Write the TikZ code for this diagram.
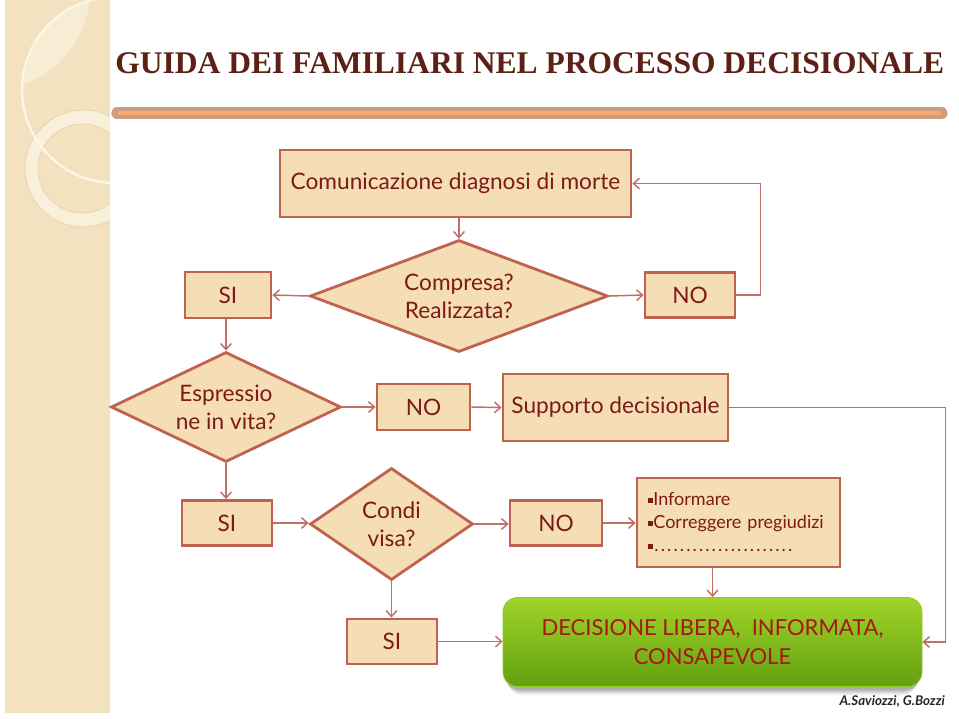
\documentclass[tikz,border=0pt]{standalone}
\usepackage{fontspec}
\setmainfont{Lato}
\newfontfamily\titlefont{Liberation Serif}
\usetikzlibrary{shapes.geometric,arrows.meta}
\definecolor{stripe}{RGB}{243,226,192}
\definecolor{stripelight}{RGB}{247,236,212}
\definecolor{ringfill}{RGB}{249,240,220}
\definecolor{ringline}{RGB}{232,212,168}
\definecolor{circline}{RGB}{252,246,230}
\definecolor{titlecol}{RGB}{92,32,22}
\definecolor{barout}{RGB}{196,140,104}
\definecolor{barin}{RGB}{246,170,112}
\definecolor{boxfill}{RGB}{245,222,182}
\definecolor{boxdraw}{RGB}{192,98,80}
\definecolor{txtred}{RGB}{125,26,24}
\definecolor{linecol}{RGB}{192,112,100}
\definecolor{gtop}{RGB}{160,212,40}
\definecolor{gmid}{RGB}{138,196,28}
\definecolor{gbot}{RGB}{98,160,16}
\definecolor{gtxt}{RGB}{168,22,22}
\newcommand\bul{\raisebox{0.16em}{\rule{0.3em}{0.3em}}}
\newcommand\dotrow{\hbox to 105pt{\xleaders\hbox to 4.75pt{\hss.\hss}\hfill}}
\begin{document}
\begin{tikzpicture}[x=0.75pt,y=-0.75pt,
  box/.style={draw=boxdraw, fill=boxfill, line width=2.1pt, inner sep=0pt, text=txtred, font=\fontsize{17}{21}\selectfont, align=center},
  dia/.style={diamond, draw=boxdraw, fill=boxfill, line width=2.1pt, inner sep=0pt},
  lbl/.style={text=txtred, font=\fontsize{17}{21}\selectfont, align=center, inner sep=0pt},
  arr/.style={draw=linecol, line width=1.1pt, -{Straight Barb[length=4.5pt,width=8pt]}},
  conn/.style={draw=linecol, line width=1.1pt}]
\path[use as bounding box, fill=white] (0,0) rectangle (959,718);
% left stripe
\fill[stripe] (5,0) rectangle (110,713);
\begin{scope}
  \clip (5,0) rectangle (110,713);
  \begin{scope}
    \clip (115,90) circle (93);
    \fill[stripelight] (-10,-10) circle (100);
  \end{scope}
  \fill[ringfill, even odd rule] (83.5,168.5) circle (58.5) (82.5,168.5) circle (44.5);
  \draw[ringline, line width=0.6pt] (83.5,168.5) circle (58.5) (82.5,168.5) circle (44.5);
  \draw[circline, line width=1.8pt] (115,90) circle (93);
\end{scope}
% title
\node[anchor=base west, inner sep=0pt, text=titlecol, font=\titlefont\bfseries\fontsize{23.65}{28}\selectfont] (title) at (115,73) {GUIDA DEI FAMILIARI NEL PROCESSO DECISIONALE};
% bar
\draw[barout, line width=8.5pt, line cap=round, opacity=0.85] (117,113) -- (942,113);
\draw[barin, line width=3.5pt, line cap=round] (120,113) -- (939,113);
% nodes
\node[box, minimum width={351*0.75pt}, minimum height={67*0.75pt}] (com) at (455.5,183.5) {Comunicazione diagnosi di morte};
\node[dia, minimum width={298*0.75pt}, minimum height={112*0.75pt}] (d1) at (459,296) {};
\node[lbl] at (d1) {Compresa?\\Realizzata?};
\node[box, minimum width={86*0.75pt}, minimum height={46*0.75pt}] (si1) at (228,295) {SI};
\node[box, minimum width={90*0.75pt}, minimum height={45*0.75pt}] (no1) at (690,295) {NO};
\node[dia, minimum width={230*0.75pt}, minimum height={110*0.75pt}] (d2) at (226,407) {};
\node[lbl] at (d2) {Espressio\\ne in vita?};
\node[box, minimum width={93*0.75pt}, minimum height={46*0.75pt}] (no2) at (423.5,407) {NO};
\node[box, minimum width={225*0.75pt}, minimum height={67*0.75pt}] (sup) at (615.5,407.5) {Supporto decisionale};
\node[box, minimum width={90*0.75pt}, minimum height={45*0.75pt}] (si2) at (227,523) {SI};
\node[dia, minimum width={163*0.75pt}, minimum height={112*0.75pt}] (d3) at (391.5,524) {};
\node[lbl] at (d3) {Condi\\visa?};
\node[box, minimum width={92*0.75pt}, minimum height={45*0.75pt}] (no3) at (556,523) {NO};
\node[box, minimum height={89*0.75pt}, text width={181*0.75pt}, inner xsep={11*0.75pt}, align=left, font=\fontsize{13.5}{17.25}\selectfont] (inf) at (738.5,522.5) {\bul Informare\\\bul Correggere pregiudizi\\\bul\dotrow};
\node[box, minimum width={90*0.75pt}, minimum height={45*0.75pt}] (si3) at (392,641.5) {SI};
% green box shadow
\foreach \o/\a in {14/0.06,11/0.08,8/0.1,5/0.12}{
  \fill[black, opacity=\a, rounded corners=12pt] (503+\o*0.3,598+\o) rectangle (922-\o*0.3,687+\o*0.6);
}
\node[rounded corners=11pt, top color=gtop, middle color=gmid, bottom color=gbot, draw=gtop!80!gbot, line width=0.6pt,
  minimum width={419*0.75pt}, minimum height={89*0.75pt}, inner sep=0pt, text=gtxt, align=center,
  font=\fontsize{16.5}{21.75}\selectfont] (green) at (712.5,642) {DECISIONE LIBERA,\ \ INFORMATA,\\CONSAPEVOLE};
\node[anchor=base east, inner sep=0pt, text=black!85, font=\fontsize{10}{12}\selectfont\bfseries\itshape] (auth) at (945,705) {A.Saviozzi, G.Bozzi};
% connectors
\draw[arr] (d1.north |- com.south) -- (d1.north);
\draw[arr] (d1.west) -- (si1.east);
\draw[arr] (d1.east) -- (no1.west);
\draw[arr] (no1.east) -- ++(24,0) |- (com.east);
\draw[arr] (si1.south -| d2.north) -- (d2.north);
\draw[arr] (d2.east) -- (no2.west);
\draw[arr] (no2.east) -- (sup.west);
\draw[arr] (sup.east) -- ++(216,0) |- (green.east);
\draw[arr] (d2.south) -- (d2.south |- si2.north);
\draw[arr] (si2.east) -- (si2.east -| d3.west);
\draw[arr] (d3.east) -- (d3.east -| no3.west);
\draw[arr] (no3.east) -- (no3.east -| inf.west);
\draw[arr] (green.north |- inf.south) -- (green.north);
\draw[arr] (d3.south) -- (d3.south |- si3.north);
\draw[arr] (si3.east) -- (si3.east -| green.west);
\end{tikzpicture}
\end{document}
